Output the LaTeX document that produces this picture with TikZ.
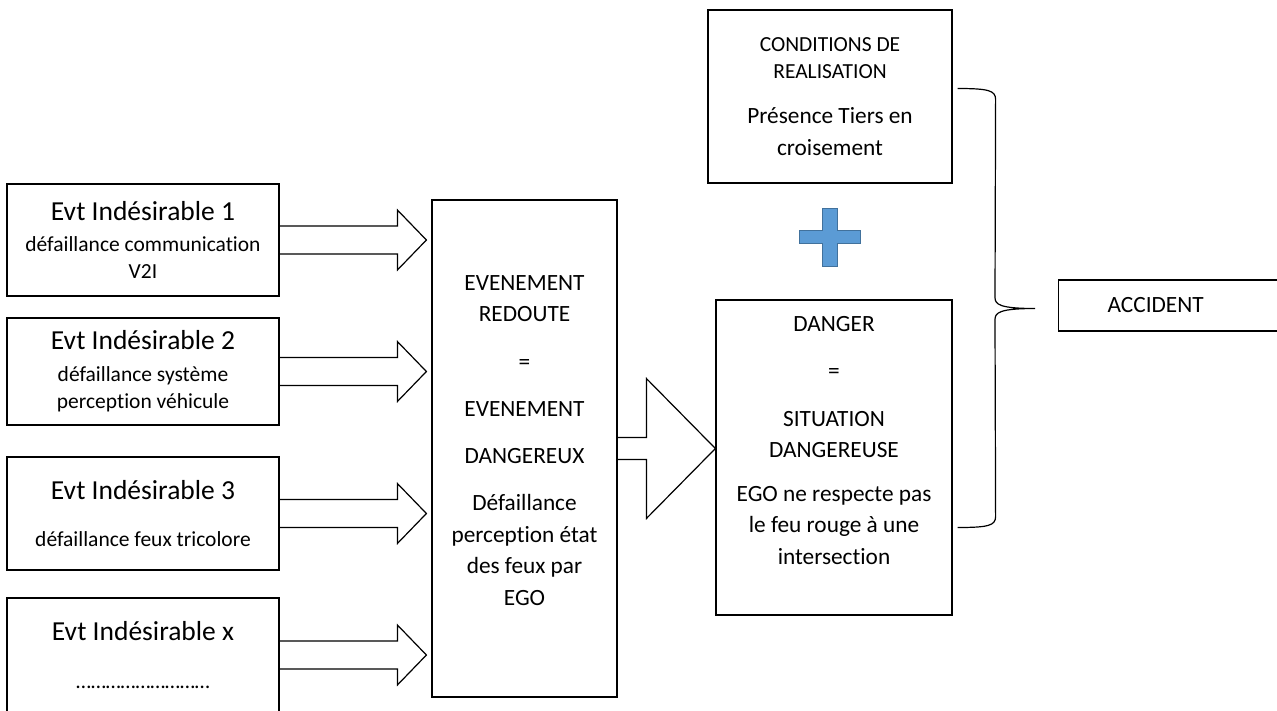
\documentclass[tikz,border=0pt]{standalone}
\usepackage{fontspec}
\setmainfont{Carlito}[Ligatures={NoCommon,NoContextual}]
\usepackage{tikz}
\usetikzlibrary{calc}
\definecolor{plusfill}{RGB}{91,155,213}
\definecolor{plusedge}{RGB}{65,113,156}
\newcommand{\fsmall}{\fontsize{21.5}{27.5}\selectfont}
\newcommand{\fmed}{\fontsize{23.3}{31.5}\selectfont}
\newcommand{\fbig}{\fontsize{27.5}{33}\selectfont}
\tikzset{
  evtbox/.style={draw, line width=1.2pt, minimum width=272pt, minimum height=112pt,
    align=center, font=\fsmall, inner sep=0pt},
  bigbox/.style={draw, line width=1.2pt, inner sep=0pt},
  txt/.style={align=center, inner sep=0pt, font=\fmed},
  blockarrow/.style={line width=1.2pt, line join=miter},
}

\begin{document}
\begin{tikzpicture}[x=1pt, y=-1pt]
  \useasboundingbox (0,0) rectangle (1277,710);
  \clip (0,0) rectangle (1277,710);
  % undesirable events (left column)
  \node[evtbox] (evt1) at (143,240) {{\fbig Evt Indésirable 1}\\[3pt]défaillance communication\\V2I};
  \node[evtbox, minimum height=107pt] (evt2) at (143,371.5) {{\fbig Evt Indésirable 2}\\[4pt]défaillance système\\perception véhicule};
  \node[evtbox, minimum height=113pt] (evt3) at (143,513.5) {{\fbig Evt Indésirable 3}\\[20pt]défaillance feux tricolore};
  \node[evtbox, minimum height=114pt] (evtx) at (143,655) {{\fbig Evt Indésirable x}\\[20pt]………………………};

  % feared event
  \node[bigbox, minimum width=185pt, minimum height=497pt] (mid) at (524.5,448.5) {};
  \node[txt] (mid-txt) at ([yshift=8pt]mid.center) {EVENEMENT\\REDOUTE\\[16pt]=\\[16pt]EVENEMENT\\[15pt]DANGEREUX\\[16pt]Défaillance\\perception état\\des feux par\\EGO};

  % hazard + conditions
  \node[bigbox, minimum width=236pt, minimum height=315pt] (danger) at (834,457.5) {};
  \node[txt] (danger-txt) at ([yshift=17pt]danger.center) {DANGER\\[16pt]=\\[16pt]SITUATION\\DANGEREUSE\\[12pt]EGO ne respecte pas\\le feu rouge à une\\intersection};
  \node[bigbox, minimum width=244pt, minimum height=173pt, align=center, font=\fmed] (cond) at (830,96.5)
    {{\fsmall CONDITIONS DE}\\[-4pt]{\fsmall REALISATION}\\[13pt]Présence Tiers en\\[1pt]croisement};
  \node[bigbox, anchor=west, minimum height=51pt, text width=135pt, inner xsep=49pt, align=left, font=\fmed] (accident) at (1058,305.5) {ACCIDENT};

  % block arrows into the feared event
  \foreach \i in {1,2,3,x}{
    \draw[blockarrow] ($(evt\i.east)+(0,-14)$) -- ($(evt\i.east -| mid.west)+(-34,-14)$) -- ++(0,-16)
      -- ($(evt\i.east -| mid.west)+(-5,0)$) -- ($(evt\i.east -| mid.west)+(-34,30)$) -- ++(0,-16)
      -- ($(evt\i.east)+(0,14)$);
  }
  \draw[blockarrow] ($(mid.east)+(0,-11)$) -- ($(mid.east -| danger.west)+(-69,-11)$) -- ++(0,-59)
    -- (mid.east -| danger.west) -- ($(mid.east -| danger.west)+(-69,70)$) -- ++(0,-59)
    -- ($(mid.east)+(0,11)$);

  % plus sign
  \draw[draw=plusedge, fill=plusfill, line width=1pt] (822,208) -- ++(15,0) -- ++(0,22) -- ++(23,0)
    -- ++(0,13) -- ++(-23,0) -- ++(0,23) -- ++(-15,0) -- ++(0,-23) -- ++(-23,0) -- ++(0,-13)
    -- ++(23,0) -- cycle;

  % brace towards the accident
  \coordinate (bracetop) at ($(cond.east)+(5,-8)$);
  \coordinate (bracebot) at ($(danger.east)+(5,70)$);
  \coordinate (bracetip) at ($(accident.west)+(-23,3)$);
  \draw[line width=1.2pt] (bracetop) .. controls +(31,0) and +(0,-9) .. ($(bracetop)+(38,11)$)
    -- ($(bracetip)+(-40,-11)$) .. controls +(0,7) and +(-35,0) .. (bracetip)
    .. controls +(-35,0) and +(0,-7) .. ($(bracetip)+(-40,11)$)
    -- ($(bracebot)+(38,-11)$) .. controls +(0,9) and +(31,0) .. (bracebot);
\end{tikzpicture}
\end{document}
